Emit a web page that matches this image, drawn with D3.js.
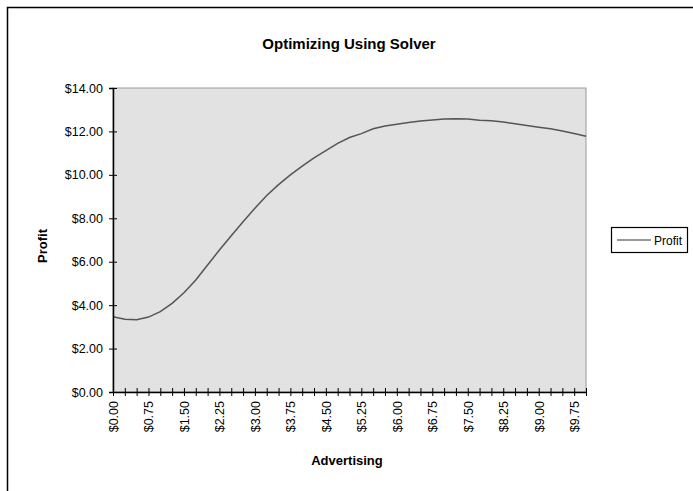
<!DOCTYPE html>
<html>
<head>
<meta charset="utf-8">
<script src="https://cdn.jsdelivr.net/npm/d3@7"></script>
<style>
  body { margin: 0; background: #fff; }
  text { font-family: "Liberation Sans", Arial, sans-serif; }
</style>
</head>
<body>
<div id="chart"></div>
<script>
// advertising spend, $0.00 .. $10.00 in 0.25 steps
const advertising = d3.range(0, 41).map(i => i * 0.25);
const profit = [
  3.47, 3.35, 3.33, 3.45, 3.70, 4.08, 4.57, 5.16, 5.85, 6.54,
  7.20, 7.84, 8.46, 9.05, 9.55, 10.00, 10.40, 10.78, 11.12, 11.45,
  11.72, 11.90, 12.12, 12.25, 12.33, 12.41, 12.48, 12.53, 12.57, 12.58,
  12.57, 12.52, 12.49, 12.43, 12.35, 12.27, 12.19, 12.12, 12.02, 11.90,
  11.78
];
const yTicks = [0, 2, 4, 6, 8, 10, 12, 14];
const labelEvery = 3;

const W = 693, H = 491;
const plot = { left: 113, right: 586, top: 88, bottom: 392 };

const svg = d3.select("#chart").append("svg")
  .attr("width", W).attr("height", H);

// chart frame
svg.append("rect")
  .attr("x", 7.5).attr("y", 7.5)
  .attr("width", W + 10).attr("height", H + 10)
  .attr("fill", "#fff").attr("stroke", "#000").attr("stroke-width", 1.5);

const fmt = d => "$" + d3.format(".2f")(d);

const x = d3.scalePoint()
  .domain(advertising)
  .range([plot.left, plot.right]);

const y = d3.scaleLinear().domain([0, 14]).range([plot.bottom, plot.top]);

// plot area
svg.append("rect")
  .attr("x", plot.left).attr("y", plot.top)
  .attr("width", plot.right - plot.left).attr("height", plot.bottom - plot.top)
  .attr("fill", "#e2e2e2").attr("stroke", "#9a9a9a").attr("stroke-width", 1);

// title
svg.append("text")
  .attr("x", 349).attr("y", 49)
  .attr("text-anchor", "middle")
  .style("font-size", "15px").style("font-weight", "bold")
  .text("Optimizing Using Solver");

// line
const line = d3.line()
  .x((d, i) => x(advertising[i]))
  .y(d => y(d));

svg.append("path")
  .datum(profit)
  .attr("fill", "none")
  .attr("stroke", "#555")
  .attr("stroke-width", 1.5)
  .attr("d", line);

// y axis
const yAxis = svg.append("g")
  .attr("transform", `translate(${plot.left},0)`)
  .call(d3.axisLeft(y).tickValues(yTicks).tickFormat(fmt).tickSize(4).tickPadding(6));
yAxis.selectAll(".tick line").attr("x2", 4).attr("x1", -4).attr("stroke", "#000");
yAxis.select(".domain").attr("stroke", "#000").attr("stroke-width", 1.5);
yAxis.selectAll("text").style("font-size", "12.5px").attr("fill", "#000");

// x axis
const xAxis = svg.append("g")
  .attr("transform", `translate(0,${plot.bottom})`)
  .call(d3.axisBottom(x)
    .tickFormat((d, i) => i % labelEvery === 0 && i < advertising.length - 1 ? fmt(d) : "")
    .tickSize(4).tickSizeOuter(0));
xAxis.selectAll(".tick line").attr("y1", -4).attr("y2", 4).attr("stroke", "#000");
xAxis.select(".domain").attr("stroke", "#000").attr("stroke-width", 1.5);
xAxis.selectAll("text")
  .style("font-size", "12.5px").attr("fill", "#000")
  .attr("text-anchor", "end")
  .attr("transform", "rotate(-90)")
  .attr("x", -9).attr("y", 0).attr("dy", "0.35em");

// axis titles
svg.append("text")
  .attr("x", 347).attr("y", 465)
  .attr("text-anchor", "middle")
  .style("font-size", "13px").style("font-weight", "bold")
  .text("Advertising");

svg.append("text")
  .attr("transform", "translate(47,246) rotate(-90)")
  .attr("text-anchor", "middle")
  .style("font-size", "13px").style("font-weight", "bold")
  .text("Profit");

// legend
const legend = svg.append("g").attr("transform", "translate(611,227)");
legend.append("rect")
  .attr("x", 0.5).attr("y", 0.5).attr("width", 76).attr("height", 25)
  .attr("fill", "#fff").attr("stroke", "#000").attr("stroke-width", 1.2);
legend.append("line")
  .attr("x1", 6).attr("x2", 40).attr("y1", 13).attr("y2", 13)
  .attr("stroke", "#333").attr("stroke-width", 1.2);
legend.append("text")
  .attr("x", 43).attr("y", 17.5)
  .style("font-size", "12px")
  .text("Profit");
</script>
</body>
</html>
